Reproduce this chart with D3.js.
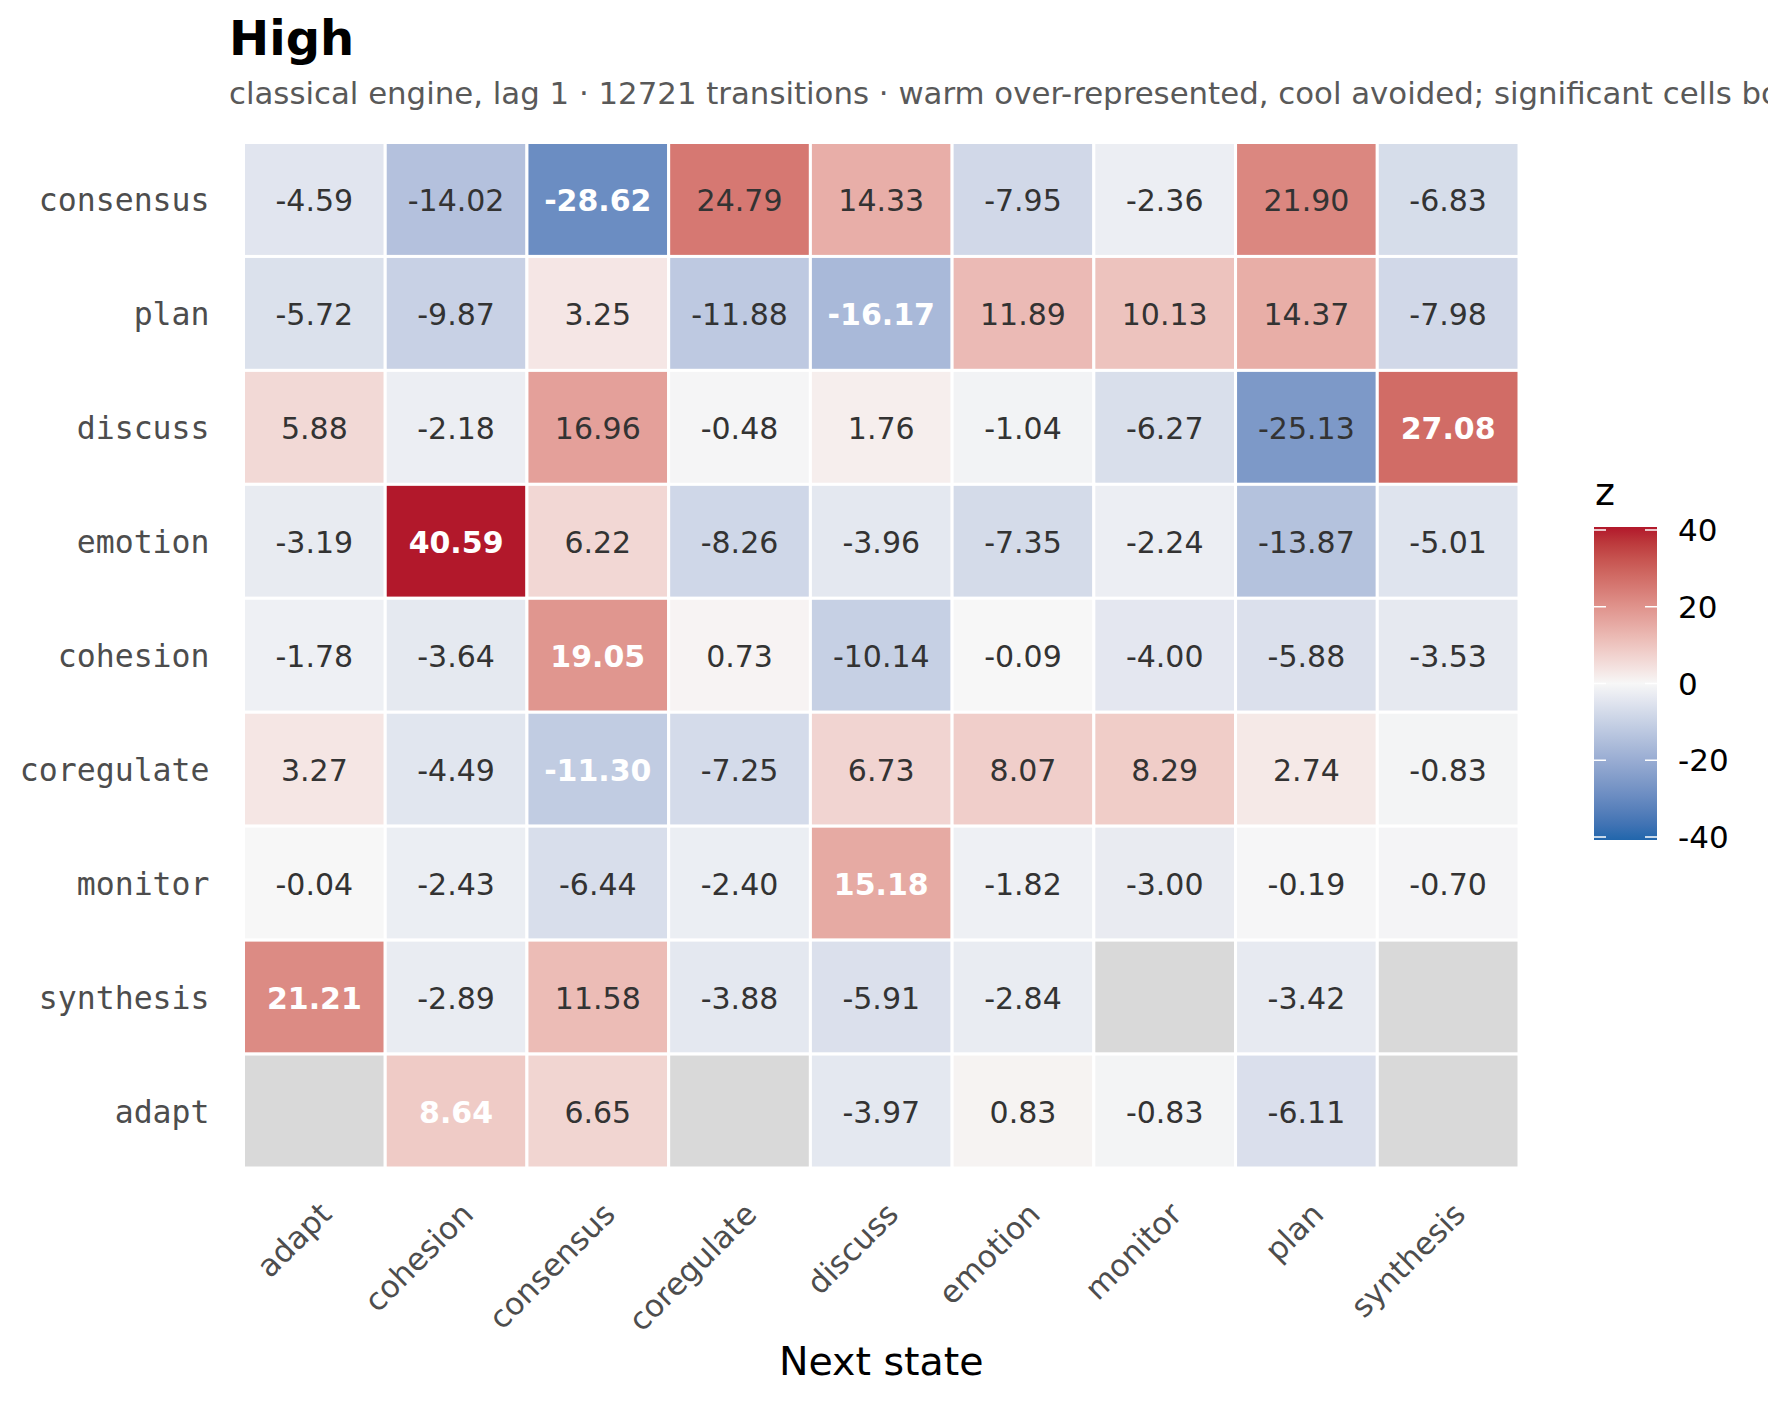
<!DOCTYPE html>
<html>
<head>
<meta charset="utf-8">
<script src="https://cdn.jsdelivr.net/npm/d3@7"></script>
<style>
    body { margin: 0; background: #fff; }
    svg { display: block; }
</style>
</head>
<body>
<svg id="SVGheatmap" width="1768" height="1404"></svg>
<script>
"use strict";

/** 列：下一状态 */
const nextStates = ["adapt", "cohesion", "consensus", "coregulate", "discuss", "emotion", "monitor", "plan", "synthesis"];
/** 行：当前状态（自上而下） */
const fromStates = ["consensus", "plan", "discuss", "emotion", "cohesion", "coregulate", "monitor", "synthesis", "adapt"];
/** 每行的 z 值，null 表示缺失 */
const zConsensus  = [-4.59, -14.02, -28.62, 24.79, 14.33, -7.95, -2.36, 21.90, -6.83];
const zPlan       = [-5.72, -9.87, 3.25, -11.88, -16.17, 11.89, 10.13, 14.37, -7.98];
const zDiscuss    = [5.88, -2.18, 16.96, -0.48, 1.76, -1.04, -6.27, -25.13, 27.08];
const zEmotion    = [-3.19, 40.59, 6.22, -8.26, -3.96, -7.35, -2.24, -13.87, -5.01];
const zCohesion   = [-1.78, -3.64, 19.05, 0.73, -10.14, -0.09, -4.00, -5.88, -3.53];
const zCoregulate = [3.27, -4.49, -11.30, -7.25, 6.73, 8.07, 8.29, 2.74, -0.83];
const zMonitor    = [-0.04, -2.43, -6.44, -2.40, 15.18, -1.82, -3.00, -0.19, -0.70];
const zSynthesis  = [21.21, -2.89, 11.58, -3.88, -5.91, -2.84, null, -3.42, null];
const zAdapt      = [null, 8.64, 6.65, null, -3.97, 0.83, -0.83, -6.11, null];
const zRows = [zConsensus, zPlan, zDiscuss, zEmotion, zCohesion, zCoregulate, zMonitor, zSynthesis, zAdapt];
/** 显著的格子：[行, 列] */
const significant = [
    ["consensus", "consensus"], ["plan", "discuss"], ["discuss", "synthesis"],
    ["emotion", "cohesion"], ["cohesion", "consensus"], ["coregulate", "consensus"],
    ["monitor", "discuss"], ["synthesis", "adapt"], ["adapt", "cohesion"]
];
/** 图例刻度 */
const legendTicks = [40, 20, 0, -20, -40];
const zLimits = [-40, 40];

const titleText = "High";
const subtitleText = "classical engine, lag 1 \u00b7 12721 transitions \u00b7 warm over-represented, cool avoided; significant cells bold";

const svg = d3.select("#SVGheatmap");
const width = +svg.attr("width");
const height = +svg.attr("height");
const panel = { left: 243.5, right: 1519, top: 142.5, bottom: 1168 };

svg.append("rect").attr("width", width).attr("height", height).attr("fill", "#fff");

const x = d3.scaleBand().domain(nextStates).range([panel.left, panel.right]);
const y = d3.scaleBand().domain(fromStates).range([panel.top, panel.bottom]);

// 发散色阶：蓝 - 白 - 红，Lab 插值
const colorNeg = d3.scaleLinear().domain([zLimits[0], 0]).range(["#2166AC", "#F7F7F7"]).interpolate(d3.interpolateLab).clamp(true);
const colorPos = d3.scaleLinear().domain([0, zLimits[1]]).range(["#F7F7F7", "#B2182B"]).interpolate(d3.interpolateLab).clamp(true);
const fill = z => z === null ? "#D9D9D9" : (z < 0 ? colorNeg(z) : colorPos(z));

const sigSet = new Set(significant.map(d => d[0] + "|" + d[1]));
const cells = [];
fromStates.forEach((from, i) => {
    nextStates.forEach((to, j) => {
        const z = zRows[i][j];
        cells.push({ from, to, z, sig: sigSet.has(from + "|" + to) });
    });
});

// 格子
svg.append("g").selectAll("rect").data(cells).join("rect")
    .attr("x", d => x(d.to))
    .attr("y", d => y(d.from))
    .attr("width", x.bandwidth())
    .attr("height", y.bandwidth())
    .attr("fill", d => fill(d.z))
    .attr("stroke", "#fff")
    .attr("stroke-width", 3);

// 数值标签
svg.append("g").selectAll("text").data(cells.filter(d => d.z !== null)).join("text")
    .attr("x", d => x(d.to) + x.bandwidth() / 2)
    .attr("y", d => y(d.from) + y.bandwidth() / 2 + 1)
    .attr("text-anchor", "middle")
    .attr("dominant-baseline", "central")
    .style("font-family", "DejaVu Sans")
    .style("font-size", "30px")
    .style("font-weight", d => d.sig ? "bold" : "normal")
    .style("fill", d => d.sig ? "#ffffff" : "#333333")
    .text(d => d.z.toFixed(2));

// y 轴标签（等宽字体）
const yAxis = svg.append("g")
    .attr("transform", "translate(" + (panel.left - 34) + ",0)")
    .call(d3.axisLeft(y).tickSize(0).tickPadding(0));
yAxis.select(".domain").remove();
yAxis.selectAll("text")
    .style("font-family", "DejaVu Sans Mono")
    .style("font-size", "31.5px")
    .style("fill", "#4D4D4D")
    .attr("dy", "0.38em");

// x 轴标签（旋转 45°）
const xAxis = svg.append("g")
    .attr("transform", "translate(0," + panel.bottom + ")")
    .call(d3.axisBottom(x).tickSize(0).tickPadding(0));
xAxis.select(".domain").remove();
xAxis.selectAll("text")
    .attr("y", 0)
    .attr("dy", 0)
    .attr("text-anchor", "end")
    .attr("transform", "translate(19,48) rotate(-45)")
    .style("font-family", "DejaVu Sans")
    .style("font-size", "31px")
    .style("fill", "#4D4D4D");

// 轴标题
svg.append("text")
    .attr("x", (panel.left + panel.right) / 2)
    .attr("y", 1375)
    .attr("text-anchor", "middle")
    .style("font-family", "DejaVu Sans")
    .style("font-size", "39.5px")
    .style("fill", "#000")
    .text("Next state");

// 标题与副标题
svg.append("text")
    .attr("x", 229).attr("y", 55)
    .style("font-family", "DejaVu Sans")
    .style("font-weight", "bold")
    .style("font-size", "48px")
    .style("fill", "#000")
    .text(titleText);
svg.append("text")
    .attr("x", 229).attr("y", 104)
    .style("font-family", "DejaVu Sans")
    .style("font-size", "30.8px")
    .style("fill", "#595959")
    .text(subtitleText);

// 图例：色条
const legend = { left: 1594, width: 63, top: 527, bottom: 840 };
const ly = d3.scaleLinear().domain(zLimits).range([legend.bottom - 3, legend.top + 3]);
const grad = svg.append("defs").append("linearGradient")
    .attr("id", "zGrad").attr("x1", 0).attr("x2", 0).attr("y1", 1).attr("y2", 0);
d3.range(0, 1.0001, 0.05).forEach(t => {
    const z = zLimits[0] + t * (zLimits[1] - zLimits[0]);
    grad.append("stop").attr("offset", t).attr("stop-color", fill(z));
});
svg.append("rect")
    .attr("x", legend.left).attr("y", legend.top)
    .attr("width", legend.width).attr("height", legend.bottom - legend.top)
    .attr("fill", "url(#zGrad)");
const lt = svg.append("g").selectAll("g").data(legendTicks).join("g")
    .attr("transform", d => "translate(0," + ly(d) + ")");
lt.append("line")
    .attr("x1", legend.left).attr("x2", legend.left + 12)
    .attr("stroke", "#fff").attr("stroke-width", 1.5);
lt.append("line")
    .attr("x1", legend.left + legend.width - 12).attr("x2", legend.left + legend.width)
    .attr("stroke", "#fff").attr("stroke-width", 1.5);
lt.append("text")
    .attr("x", 1678)
    .attr("dy", "0.36em")
    .style("font-family", "DejaVu Sans")
    .style("font-size", "31px")
    .style("fill", "#000")
    .text(d => d);
svg.append("text")
    .attr("x", 1595).attr("y", 505)
    .style("font-family", "DejaVu Sans")
    .style("font-size", "38px")
    .style("fill", "#000")
    .text("z");
</script>
</body>
</html>
